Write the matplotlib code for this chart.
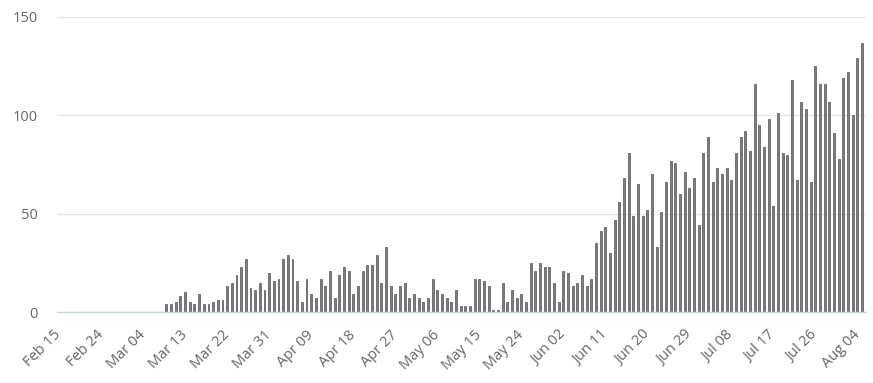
import matplotlib
matplotlib.use("Agg")
import matplotlib.pyplot as plt
import matplotlib.transforms as mtransforms
import numpy as np
import pandas as pd

start_date = "2020-02-15"
end_date = "2020-08-05"
leading_zero_days = 23  # Feb 15 .. Mar 08

daily_values = [
    4, 4, 5, 8, 10, 5, 4, 9, 4, 4, 5, 6, 6, 13, 15, 19, 23, 27, 12, 11,
    15, 11, 20, 16, 17, 27, 29, 27, 16, 5, 17, 9, 7, 17, 13, 21, 7, 19,
    23, 21, 9, 13, 21, 24, 24, 29, 15, 33, 13, 9, 13, 15, 7, 9, 7, 5, 7,
    17, 11, 9, 7, 5, 11, 3, 3, 3, 17, 17, 16, 13, 1, 1, 15, 5, 11, 7, 9,
    5, 25, 21, 25, 23, 23, 15, 5, 21, 20, 13, 15, 19, 13, 17, 35, 41, 43,
    30, 47, 56, 68, 81, 49, 65, 49, 52, 70, 33, 51, 66, 77, 76, 60, 71,
    63, 68, 44, 81, 89, 66, 73, 70, 73, 67, 81, 89, 92, 82, 116, 95, 84,
    98, 54, 101, 81, 80, 118, 67, 107, 103, 66, 125, 116, 116, 107, 91,
    78, 119, 122, 100, 129, 137,
]

tick_start = "2020-02-15"
tick_step_days = 9
y_ticks = [0, 50, 100, 150]

dates = pd.date_range(start_date, end_date, freq="D")
values = [0] * leading_zero_days + daily_values
values = values[:len(dates)]

W, H = 873, 383
fig = plt.figure(figsize=(W / 100, H / 100), dpi=100)
left, right, top, bottom = 57, 866, 17, 312
ax = fig.add_axes([left / W, (H - bottom) / H, (right - left) / W, (bottom - top) / H])

fam = ['Open Sans', 'DejaVu Sans']
plt.rcParams['font.family'] = fam

ax.bar(dates, values, width=0.42, color="#7d7d7d", edgecolor="#555555",
       linewidth=0.5, zorder=3)

ax.set_ylim(0, 150)
ax.set_yticks(y_ticks)
ax.set_xlim(pd.Timestamp(start_date) - pd.Timedelta(days=0.45),
            pd.Timestamp(end_date) + pd.Timedelta(days=0.85))

ticks = pd.date_range(tick_start, end_date, freq=f"{tick_step_days}D")
ax.set_xticks(ticks)
ax.set_xticklabels([t.strftime("%b %d") for t in ticks], rotation=45,
                   ha="right", va="center", rotation_mode="anchor",
                   fontsize=10.5, color="#666666", family=fam)
offset = mtransforms.ScaledTranslation(4 / 100, 0, fig.dpi_scale_trans)
for lab in ax.get_xticklabels():
    lab.set_transform(lab.get_transform() + offset)
for lab in ax.get_yticklabels():
    lab.set_fontsize(10.5)
    lab.set_color("#666666")
    lab.set_family(fam)

ax.tick_params(axis="x", length=0, pad=15)
ax.tick_params(axis="y", length=0, pad=14)

ax.grid(axis="y", color="#e6e6e6", linewidth=1, zorder=0)
ax.grid(axis="x", visible=False)
for s in ["top", "right", "left"]:
    ax.spines[s].set_visible(False)
ax.spines["bottom"].set_color("#ccd6eb")
ax.spines["bottom"].set_linewidth(1)
ax.spines["bottom"].set_zorder(4)

fig.savefig("out.png", dpi=100)
